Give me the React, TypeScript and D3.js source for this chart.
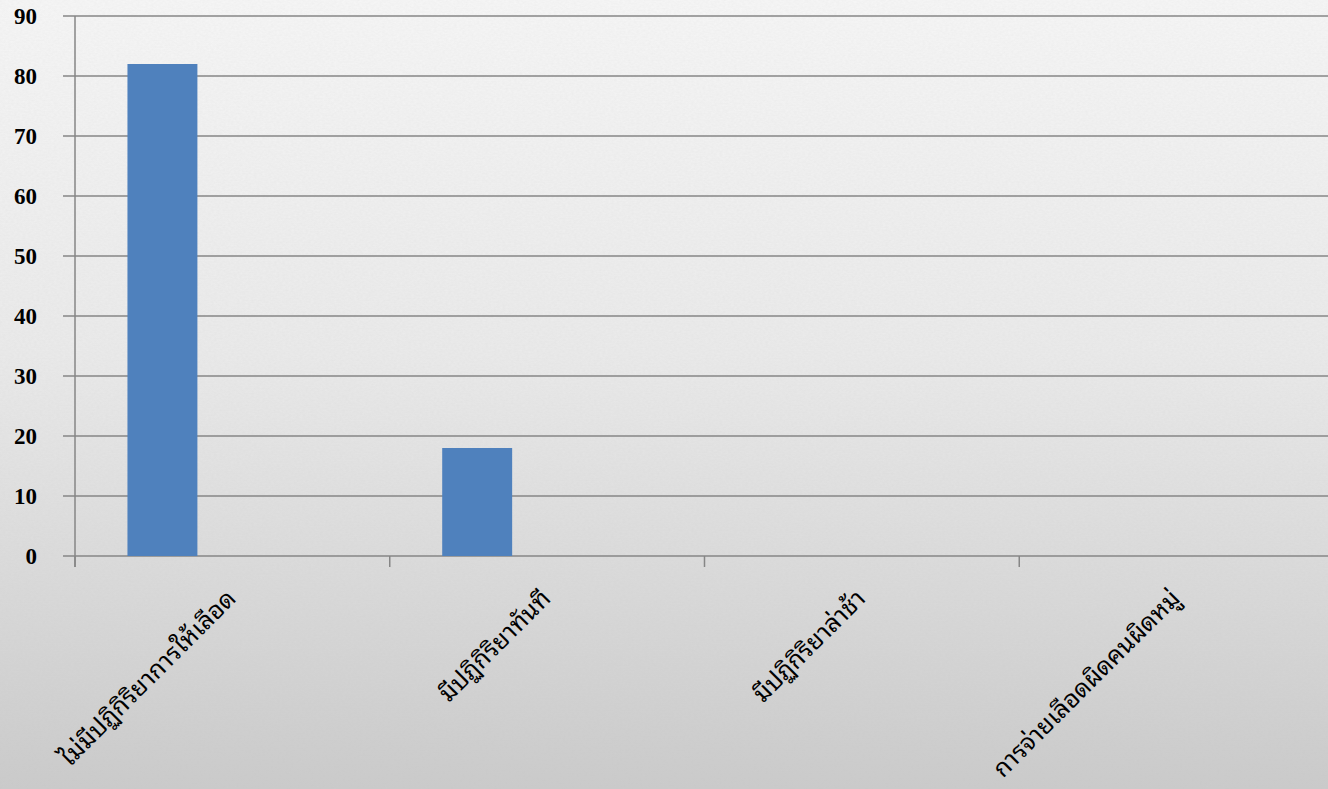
import React from "react";
import * as d3 from "d3";

const categories = [
  "ไม่มีปฏิกิริยาการให้เลือด",
  "มีปฏิกิริยาทันที",
  "มีปฏิกิริยาล่าช้า",
  "การจ่ายเลือดผิดคนผิดหมู่",
];
const values = [82, 18, 0, 0];
const yTicks = [0, 10, 20, 30, 40, 50, 60, 70, 80, 90];
const seriesSlots = ["s1", "s2", "s3"];

const W = 1328;
const H = 789;
const left = 75;
const right = 1328;
const top = 16;
const bottom = 556;

export default function App() {
  const x = d3.scaleBand<string>().domain(categories).range([left, right + 6]).padding(0);
  const inner = d3
    .scaleBand<string>()
    .domain(seriesSlots)
    .range([0, x.bandwidth()])
    .paddingInner(0)
    .paddingOuter(0.75);
  const y = d3.scaleLinear().domain([0, 90]).range([bottom, top]);

  return (
    <svg
      width={W}
      height={H}
      style={{ position: "absolute", left: 0, top: 0, display: "block" }}
    >
      <defs>
        <linearGradient id="bg" x1="0" y1="0" x2="0" y2="1">
          <stop offset="0" stopColor="#f7f7f7" />
          <stop offset="0.45" stopColor="#ebebeb" />
          <stop offset="1" stopColor="#cbcbcb" />
        </linearGradient>
        <filter id="noise" x="0" y="0" width="100%" height="100%">
          <feTurbulence type="fractalNoise" baseFrequency="0.35 0.6" numOctaves="2" seed="3" result="n" />
          <feColorMatrix
            in="n"
            type="matrix"
            values="0 0 0 0 0.5  0 0 0 0 0.5  0 0 0 0 0.5  0 0 0 0.14 0"
          />
        </filter>
      </defs>
      <rect x={0} y={0} width={W} height={H} fill="url(#bg)" />
      <rect x={0} y={0} width={W} height={H} filter="url(#noise)" />

      {yTicks.map((t) => (
        <g key={t}>
          <line
            x1={left - 12}
            x2={right}
            y1={y(t)}
            y2={y(t)}
            stroke="#868686"
            strokeWidth={1.5}
          />
          <text
            x={37}
            y={y(t)}
            dy="0.35em"
            textAnchor="end"
            fontFamily="'Liberation Serif', 'Times New Roman', serif"
            fontWeight="bold"
            fontSize={23}
            fill="#000"
          >
            {t}
          </text>
        </g>
      ))}
      <line x1={left} x2={left} y1={top} y2={bottom + 11} stroke="#868686" strokeWidth={1.5} />
      {categories.map((c, i) => (
        <line
          key={"t" + i}
          x1={x(c)!}
          x2={x(c)!}
          y1={bottom}
          y2={bottom + 11}
          stroke="#868686"
          strokeWidth={1.5}
        />
      ))}

      {categories.map((c, i) =>
        values[i] > 0 ? (
          <rect
            key={"b" + i}
            x={x(c)! + inner("s1")!}
            y={y(values[i])}
            width={inner.bandwidth()}
            height={y(0) - y(values[i])}
            fill="#4f81bd"
          />
        ) : null
      )}

      {categories.map((c, i) => {
        const cx = x(c)! + x.bandwidth() / 2;
        return (
          <text
            key={"l" + i}
            transform={`translate(${cx + 5},${bottom + 44}) rotate(-45)`}
            textAnchor="end"
            fontFamily="'Noto Sans Thai Looped', 'Noto Serif Thai', 'Noto Sans Thai', 'Tahoma', sans-serif"
            fontSize={24.5}
            fill="#000"
          >
            {c}
          </text>
        );
      })}
    </svg>
  );
}
